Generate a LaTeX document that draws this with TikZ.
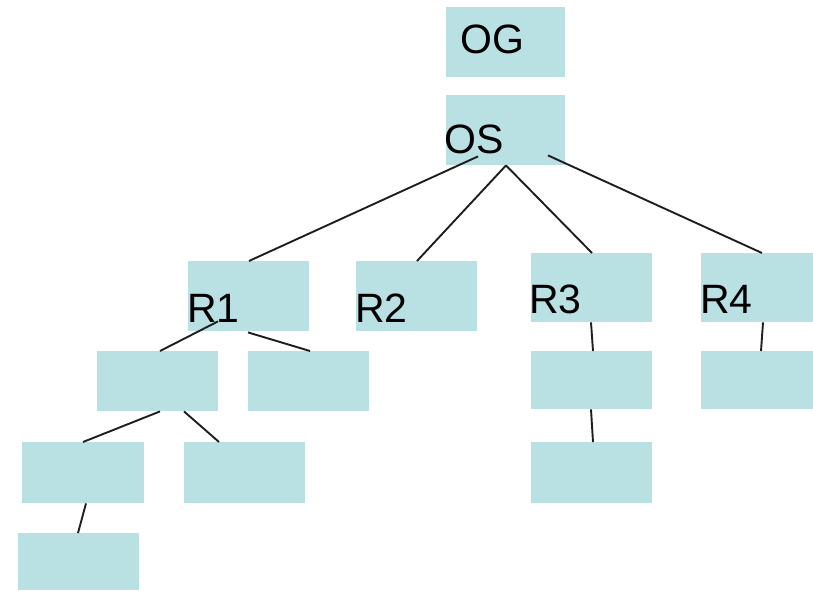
\documentclass[tikz,border=0pt]{standalone}
\usepackage{fontspec}
\setmainfont{Liberation Sans}
\definecolor{boxfill}{RGB}{185,224,227}
\definecolor{linkcol}{RGB}{30,30,30}
\begin{document}
\begin{tikzpicture}[x=1pt,y=-1pt,
  box/.style={fill=boxfill,draw=none,inner sep=0pt,anchor=north west},
  tag/.style={inner sep=0pt,anchor=base west,font=\fontsize{41}{49}\selectfont},
  link/.style={draw=linkcol,line width=1.9pt}]
\useasboundingbox (0,0) rectangle (813,590);
% boxes, top-left corner given in pixel-like units
\node[box,minimum width=119pt,minimum height=70pt] (og) at (446,7) {};
\node[box,minimum width=119pt,minimum height=70pt] (os) at (446,95) {};
\node[box,minimum width=121pt,minimum height=70pt] (r1) at (188,261) {};
\node[box,minimum width=121pt,minimum height=70pt] (r2) at (356,261) {};
\node[box,minimum width=121pt,minimum height=69pt] (r3) at (531,253) {};
\node[box,minimum width=112pt,minimum height=69pt] (r4) at (701,253) {};
\node[box,minimum width=121pt,minimum height=60pt] (a) at (97,351) {};
\node[box,minimum width=121pt,minimum height=60pt] (b) at (248,351) {};
\node[box,minimum width=121pt,minimum height=58pt] (r3c) at (531,351) {};
\node[box,minimum width=112pt,minimum height=58pt] (r4c) at (701,351) {};
\node[box,minimum width=122pt,minimum height=61pt] (c) at (22,442) {};
\node[box,minimum width=121pt,minimum height=61pt] (d) at (184,442) {};
\node[box,minimum width=121pt,minimum height=61pt] (r3d) at (531,442) {};
\node[box,minimum width=121pt,minimum height=57pt] (e) at (18,533) {};
% connectors
\draw[link] ([shift={(32,-9)}]os.south west) -- ([shift={(61,0)}]r1.north west);
\draw[link] ([shift={(60,0)}]os.south west) -- ([shift={(61,0)}]r2.north west);
\draw[link] ([shift={(60,0)}]os.south west) -- ([shift={(61,0)}]r3.north west);
\draw[link] ([shift={(102,-10)}]os.south west) -- ([shift={(61,0)}]r4.north west);
\draw[link] ([shift={(30,-10)}]r1.south west) -- ([shift={(63,0)}]a.north west);
\draw[link] ([shift={(60,1)}]r1.south west) -- ([shift={(62,0)}]b.north west);
\draw[link] ([shift={(63,0)}]a.south west) -- ([shift={(61,0)}]c.north west);
\draw[link] ([shift={(87,0)}]a.south west) -- ([shift={(35,0)}]d.north west);
\draw[link] ([shift={(64,0)}]c.south west) -- ([shift={(60,0)}]e.north west);
\draw[link] ([shift={(60,0)}]r3.south west) -- ([shift={(62,0)}]r3c.north west);
\draw[link] ([shift={(60,0)}]r3c.south west) -- ([shift={(62,0)}]r3d.north west);
\draw[link] ([shift={(62,0)}]r4.south west) -- ([shift={(60,0)}]r4c.north west);
% labels
\node[tag] (tog) at (460,53) {OG};
\node[tag] (tos) at (444,153) {OS};
\node[tag] (tr1) at (187,322) {R1};
\node[tag] (tr2) at (355,322) {R2};
\node[tag] (tr3) at (529,313) {R3};
\node[tag] (tr4) at (700,313) {R4};
\end{tikzpicture}
\end{document}
